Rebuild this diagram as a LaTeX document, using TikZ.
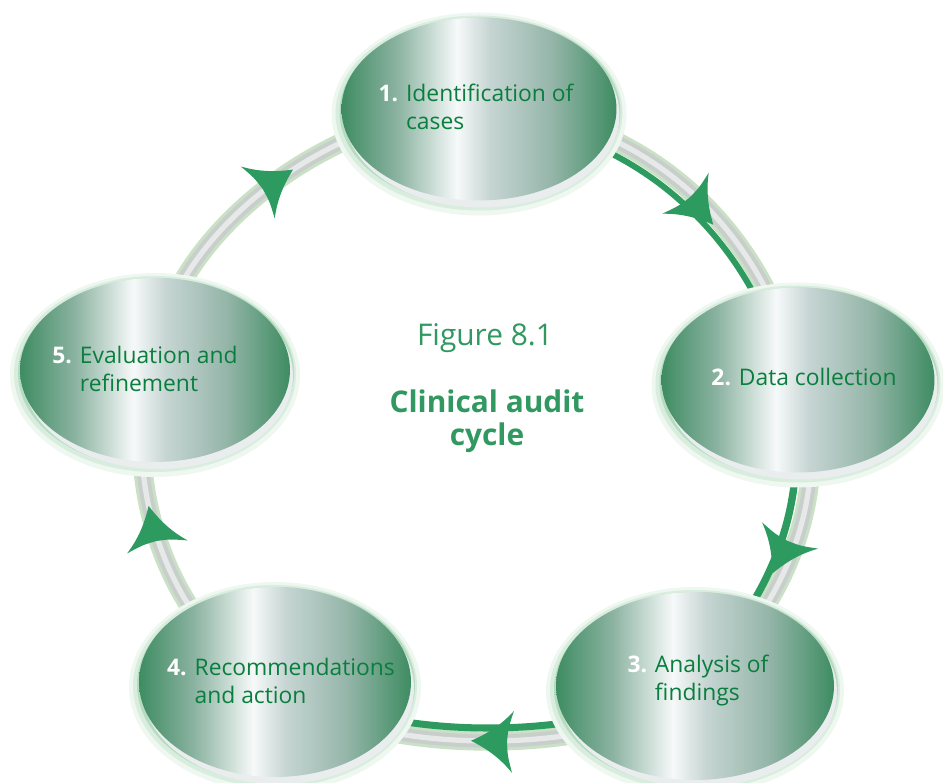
\documentclass[tikz,border=0pt]{standalone}
\usepackage{fontspec}
\setmainfont{Open Sans}
\usetikzlibrary{shapes.geometric,decorations.markings}
\definecolor{edg}{RGB}{62,140,98}
\definecolor{mA}{RGB}{138,178,160}
\definecolor{hl}{RGB}{246,249,249}
\definecolor{mB}{RGB}{198,213,211}
\definecolor{mC}{RGB}{150,182,170}
\definecolor{elltext}{RGB}{10,126,62}
\definecolor{figtext}{RGB}{48,152,96}
\definecolor{arrgreen}{RGB}{45,155,95}
\definecolor{tubeedge}{RGB}{202,225,198}
\definecolor{tubemid}{RGB}{200,206,203}
\definecolor{tubehl}{RGB}{230,233,231}
\definecolor{glowA}{RGB}{238,247,240}
\definecolor{glowB}{RGB}{216,237,222}
\definecolor{glowC}{RGB}{182,219,193}
\definecolor{rimc}{RGB}{234,237,237}
\pgfdeclarehorizontalshading{ellsh}{100bp}{color(0bp)=(edg); color(25bp)=(edg); color(35bp)=(mA); color(46bp)=(hl); color(52bp)=(mB); color(63bp)=(mC); color(75bp)=(edg); color(100bp)=(edg)}
\pgfdeclarelayer{tubes}
\pgfdeclarelayer{glows}
\pgfsetlayers{tubes,glows,main}
\newcommand\numw[1]{\textcolor{white}{\bfseries #1}}
\begin{document}
\begin{tikzpicture}[x=0.02cm,y=-0.02cm,
  ell/.style={ellipse, inner sep=0pt, shading=ellsh},
  elltxt/.style={inner sep=0pt, text=elltext, font=\fontsize{13}{15.5}\selectfont},
  figtxt/.style={inner sep=0pt, text=figtext, align=center},
  tube/.style={line width=11pt, draw=tubeedge,
    postaction={draw=tubemid, line width=7.5pt},
    postaction={draw=tubehl, line width=3pt}},
  arr/.style={postaction={decorate, decoration={markings, mark=at position #1 with {%
    \fill[arrgreen] (0,0) .. controls (-17,-8) and (-30,-17) .. (-42,-31)
      .. controls (-37,-14) .. (-36,0) .. controls (-37,14) .. (-42,31)
      .. controls (-30,17) and (-17,8) .. (0,0) -- cycle;}}}},
  gline/.style={draw=arrgreen, line width=#1}
]
\useasboundingbox (0,0) rectangle (943,783);
% ellipses
\node[ell, minimum width=5.5cm, minimum height=3.66cm] (n1) at (479,109) {};
\node[ell, minimum width=5.46cm, minimum height=3.7cm] (n2) at (798,380) {};
\node[ell, minimum width=5.56cm, minimum height=3.76cm] (n3) at (695,686) {};
\node[ell, minimum width=5.44cm, minimum height=3.8cm] (n4) at (275,682) {};
\node[ell, minimum width=5.4cm, minimum height=3.68cm] (n5) at (155,370) {};
% texts
\node[elltxt] (t1) at (476,110) {\begin{tabular}{@{}l@{ }l@{}}\numw{1.} & Identification of\\ & cases\end{tabular}};
\node[elltxt] (t2) at (804,377) {\numw{2.} Data collection};
\node[elltxt] (t3) at (698,681) {\begin{tabular}{@{}l@{ }l@{}}\numw{3.} & Analysis of\\ & findings\end{tabular}};
\node[elltxt] (t4) at (281,684) {\begin{tabular}{@{}l@{ }l@{}}\numw{4.} & Recommendations\\ & and action\end{tabular}};
\node[elltxt] (t5) at (145,372) {\begin{tabular}{@{}l@{ }l@{}}\numw{5.} & Evaluation and\\ & refinement\end{tabular}};
\node[figtxt, font=\fontsize{17}{20}\selectfont] (fig) at (485,338) {Figure 8.1};
\node[figtxt, font=\fontsize{17}{18.5}\selectfont\bfseries] (ttl) at (487,421) {Clinical audit\\cycle};
% glows behind ellipses
\begin{pgfonlayer}{glows}
\foreach \n/\rx/\ry in {n1/137.5/91.5, n2/136.5/92.5, n3/139/94, n4/136/95, n5/135/92}{
  \fill[glowA] ([shift={(0,5)}]\n.center) ellipse [x radius=\rx+10, y radius=\ry+10];
  \fill[glowB] ([shift={(0,4)}]\n.center) ellipse [x radius=\rx+6, y radius=\ry+6];
  \fill[glowC] ([shift={(1,3)}]\n.center) ellipse [x radius=\rx+3, y radius=\ry+3];
  \fill[rimc] ([shift={(3,6)}]\n.center) ellipse [x radius=\rx, y radius=\ry+1];
}
\end{pgfonlayer}
% ring connectors
\begin{pgfonlayer}{tubes}
\path[tube] (n1.center) .. controls (632,110) and (765,222) .. (n2.center);
\path[gline=3.4pt, transform canvas={shift={(-9,10)}}] (n1.center) .. controls (632,110) and (765,222) .. (n2.center);
\path[tube] (n2.center) .. controls (835,480) and (790,610) .. (n3.center);
\path[gline=4.2pt, transform canvas={shift={(-15,0)}}] (n2.center) .. controls (835,480) and (790,610) .. (n3.center);
\path[tube] (n3.center) .. controls (620,760) and (350,760) .. (n4.center);
\path[gline=4pt, transform canvas={shift={(0,-13)}}] (n3.center) .. controls (620,760) and (350,760) .. (n4.center);
\path[tube] (n4.center) .. controls (170,640) and (115,470) .. (n5.center);
\path[tube] (n5.center) .. controls (160,240) and (330,110) .. (n1.center);
% arrowheads
\path[arr=0.6, transform canvas={shift={(-5,5)}}] (n1.center) .. controls (632,110) and (765,222) .. (n2.center);
\path[arr=0.58, transform canvas={shift={(-11,0)}}] (n2.center) .. controls (835,480) and (790,610) .. (n3.center);
\path[arr=0.53] (n3.center) .. controls (620,760) and (350,760) .. (n4.center);
\path[arr=0.62] (n4.center) .. controls (170,640) and (115,470) .. (n5.center);
\path[arr=0.56] (n5.center) .. controls (160,240) and (330,110) .. (n1.center);
\end{pgfonlayer}
\end{tikzpicture}
\end{document}
